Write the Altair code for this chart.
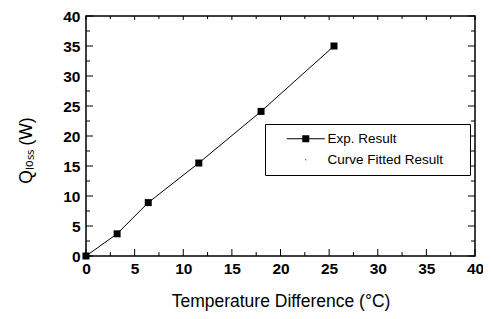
import altair as alt
import pandas as pd

# ---- data ----
temp_diff = [0, 3.2, 6.4, 11.6, 18.0, 25.5]
q_loss = [0, 3.7, 8.9, 15.5, 24.1, 35.0]
series_names = ["Exp. Result", "Curve Fitted Result"]
major_ticks = [0, 5, 10, 15, 20, 25, 30, 35, 40]
minor_ticks = [2.5, 7.5, 12.5, 17.5, 22.5, 27.5, 32.5, 37.5]

W, H = 389, 240
FONT = "Liberation Sans"
XT = "Temperature Difference (°C)"
YT = "Qₗₒₛₛ (W)"

df = pd.DataFrame({"t": temp_diff, "q": q_loss, "series": series_names[0]})
tmaj = pd.DataFrame({"v": major_ticks})
tmin = pd.DataFrame({"v": minor_ticks})

xscale = alt.Scale(domain=[0, 40], nice=False)
yscale = alt.Scale(domain=[0, 40], nice=False)

common_axis = dict(
    values=major_ticks, ticks=False, domain=False, grid=False,
    labelFont=FONT, titleFont=FONT, labelFontSize=15.5, titleFontSize=17.5,
    labelFontWeight="bold",
    labelColor="black", titleColor="black", titleFontWeight="normal",
    labelFlush=False, labelOverlap=False,
)
xaxis = alt.Axis(labelPadding=5, titlePadding=16, **common_axis)
yaxis = alt.Axis(labelPadding=6, titlePadding=27, titleY=134, **common_axis)

X = alt.X("t:Q", scale=xscale, axis=xaxis, title=XT)
Y = alt.Y("q:Q", scale=yscale, axis=yaxis, title=YT)

line = alt.Chart(df).mark_line(color="black", strokeWidth=1).encode(x=X, y=Y)

points = alt.Chart(df).mark_point(
    filled=True, size=49, opacity=1, color="black", shape="square"
).encode(x=X, y=Y)

# legend-only layer (invisible marks) that carries the custom legend symbols
sym_exp = "M1.4,-0.1H4.5V-0.7H5.9V-0.1H9V0.1H5.9V0.7H4.5V0.1H1.4Z"
sym_fit = "M5.1,-0.08H5.3V0.08H5.1Z"
legend_layer = alt.Chart(df).mark_point(filled=True, opacity=0, color="black").encode(
    x=X, y=Y,
    shape=alt.Shape(
        "series:N",
        scale=alt.Scale(domain=series_names, range=[sym_exp, sym_fit]),
        legend=alt.Legend(
            title="MMM", titleOrient="right", titleOpacity=0, titleFontSize=6,
            titlePadding=4,
            orient="none", legendX=179, legendY=108,
            strokeColor="black", fillColor="white", padding=8,
            labelFont=FONT, labelFontSize=13.5, labelColor="black",
            symbolSize=100, labelOffset=41, rowPadding=6,
            symbolOpacity=1, symbolFillColor="black",
            symbolStrokeColor="black", symbolStrokeWidth=0,
        ),
    ),
)

def vticks(data, y0, y1):
    return alt.Chart(data).mark_rule(color="black", strokeWidth=1).encode(
        x=alt.X("v:Q", scale=xscale, axis=xaxis, title=XT),
        y=alt.value(y0), y2=alt.value(y1))

def hticks(data, x0, x1):
    return alt.Chart(data).mark_rule(color="black", strokeWidth=1).encode(
        y=alt.Y("v:Q", scale=yscale, axis=yaxis, title=YT),
        x=alt.value(x0), x2=alt.value(x1))

tick_layers = [
    vticks(tmaj, H, H - 7), vticks(tmin, H, H - 4),
    vticks(tmaj, 0, 4), vticks(tmin, 0, 3),
    hticks(tmaj, 0, 7), hticks(tmin, 0, 4),
    hticks(tmaj, W, W - 7), hticks(tmin, W, W - 4),
]

chart = alt.layer(line, points, legend_layer, *tick_layers).properties(
    width=W, height=H,
    padding={"left": 78, "top": 8, "right": 8, "bottom": 55},
    autosize=alt.AutoSizeParams(type="none"),
    background="white",
).configure_view(stroke="black", strokeWidth=1.5)

chart.save("out.html", embed_options={"renderer": "svg", "actions": False})
